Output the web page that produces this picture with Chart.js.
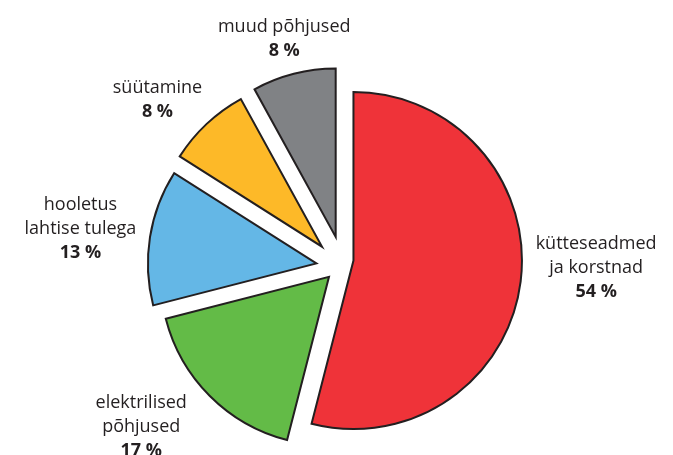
<!DOCTYPE html>
<html><head><meta charset="utf-8">
<script src="https://cdn.jsdelivr.net/npm/chart.js@4.4.0/dist/chart.umd.min.js"></script>
<style>html,body{margin:0;padding:0;background:#fff;overflow:hidden}#wrap{width:673px;height:455px;position:relative}</style>
</head><body><div id="wrap"><canvas id="c" width="673" height="455"></canvas></div>
<script>
// --- data ---
const categories = [["kütteseadmed", "ja korstnad"], ["elektrilised", "põhjused"], ["hooletus", "lahtise tulega"], ["süütamine"], ["muud põhjused"]];
const shares = [54, 17, 13, 8, 8];
const shareLabels = ["54 %", "17 %", "13 %", "8 %", "8 %"];

// --- styles ---
const sliceColors = ['#ef3339', '#63bb47', '#64b7e6', '#fdb928', '#808285'];
// slice pull-out: radial distance and small sideways shift (px)
const explode = [{r: 11.8, t: -4.8}, {r: 17.8, t: -0.6}, {r: 24.5, t: -3.5}, {r: 25.6, t: -2.2}, {r: 27.4, t: 1.4}];
const labelPlace = [ // angle shift (deg) from slice mid-angle, distance from pie centre
  {da: -6.3, r: 255}, {da: 5.8, r: 258}, {da: -1.4, r: 263}, {da: -5.1, r: 246}, {da: 0.2, r: 232}
];
const textColor = '#231f20';
const fontFamily = '"Open Sans", "Noto Sans", sans-serif';
const fontSize = 18;
const lineH = 23.7;

const explodePlugin = {
  id: 'explode',
  beforeDatasetDraw(chart, args) {
    const ctx = chart.ctx;
    args.meta.data.forEach((arc, i) => {
      const mid = (arc.startAngle + arc.endAngle) / 2;
      const e = explode[i];
      const dx = Math.cos(mid) * e.r - Math.sin(mid) * e.t;
      const dy = Math.sin(mid) * e.r + Math.cos(mid) * e.t;
      ctx.save();
      ctx.translate(dx, dy);
      arc.draw(ctx);
      ctx.restore();
    });
    return false;
  }
};

const labelPlugin = {
  id: 'outLabels',
  afterDraw(chart) {
    const ctx = chart.ctx;
    const meta = chart.getDatasetMeta(0);
    ctx.save();
    ctx.fillStyle = textColor;
    ctx.textAlign = 'center';
    ctx.textBaseline = 'middle';
    meta.data.forEach((arc, i) => {
      const mid = (arc.startAngle + arc.endAngle) / 2 + labelPlace[i].da * Math.PI / 180;
      const cx = arc.x + Math.cos(mid) * labelPlace[i].r;
      const cy = arc.y + Math.sin(mid) * labelPlace[i].r;
      const lines = categories[i].map(t => ({t, b: false})).concat([{t: shareLabels[i], b: true}]);
      const y0 = cy - (lines.length - 1) * lineH / 2;
      lines.forEach((ln, k) => {
        ctx.font = (ln.b ? 'bold ' : '') + fontSize + 'px ' + fontFamily;
        ctx.fillText(ln.t, cx, y0 + k * lineH);
      });
    });
    ctx.restore();
  }
};

new Chart(document.getElementById('c'), {
  type: 'pie',
  data: {
    labels: categories.map(c => c.join(' ')),
    datasets: [{
      data: shares,
      backgroundColor: sliceColors,
      borderColor: '#231f20',
      borderWidth: 2,
      borderJoinStyle: 'miter'
    }]
  },
  options: {
    responsive: false,
    animation: false,
    radius: 168.5,
    layout: {padding: {left: 9.3, right: 0, top: 72.7, bottom: 0}},
    plugins: {legend: {display: false}, tooltip: {enabled: false}}
  },
  plugins: [explodePlugin, labelPlugin]
});
</script>
</body></html>
